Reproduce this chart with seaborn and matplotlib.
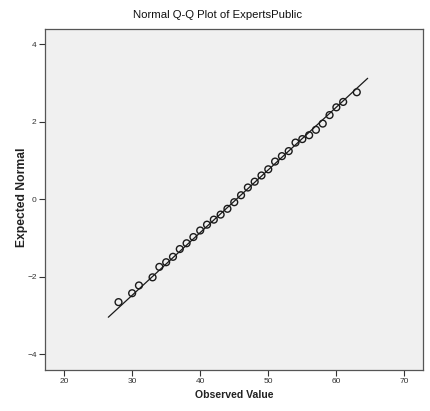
import matplotlib
matplotlib.use("Agg")
import matplotlib.pyplot as plt
import seaborn as sns
import pandas as pd
import numpy as np

# Data
observed = [28, 30, 31, 33, 34, 35, 36, 37, 38, 39, 40, 41, 42, 43, 44, 45, 46,
            47, 48, 49, 50, 51, 52, 53, 54, 55, 56, 57, 58, 59, 60, 61, 63]
expected = [-2.66, -2.43, -2.23, -2.02, -1.75, -1.63, -1.49, -1.29, -1.14, -0.98,
            -0.81, -0.66, -0.53, -0.40, -0.25, -0.08, 0.10, 0.30, 0.45, 0.61,
            0.77, 0.97, 1.11, 1.24, 1.46, 1.55, 1.65, 1.79, 1.95, 2.17, 2.37,
            2.51, 2.76]
line_x = [26.5, 64.6]
line_y = [-3.05, 3.12]
x_ticks = [20, 30, 40, 50, 60, 70]
y_ticks = [-4, -2, 0, 2, 4]

sns.set_style("white")
plt.rcParams['font.family'] = ['Liberation Sans', 'DejaVu Sans']

fig = plt.figure(figsize=(4.31, 4.11), dpi=100)
ax = fig.add_axes([45 / 431, 1 - 369.5 / 411, (423.5 - 45) / 431, (369.5 - 29.5) / 411])
ax.set_facecolor('#f0f0f0')

pts = pd.DataFrame({"obs": observed, "exp": expected})
ln = pd.DataFrame({"x": line_x, "y": line_y})
sns.lineplot(data=ln, x="x", y="y", ax=ax, color="#1a1a1a", linewidth=0.9)
sns.scatterplot(data=pts, x="obs", y="exp", ax=ax, marker="o", s=24,
                facecolor="none", edgecolor="#1a1a1a", linewidth=1.0, zorder=3)

ax.set_xlim(17.2, 72.8)
ax.set_ylim(-4.4, 4.38)
ax.set_xticks(x_ticks)
ax.set_yticks(y_ticks)
ax.tick_params(axis='both', which='major', direction='out', length=4, width=0.8,
               color='#333333', labelsize=6, labelcolor='#333333', pad=2,
               bottom=True, left=True)
for s in ax.spines.values():
    s.set_color('#555555')
    s.set_linewidth(0.9)

ax.set_xlabel("Observed Value", fontsize=7.6, fontweight='bold', color='#222222')
ax.xaxis.set_label_coords((234.5 - 45) / 378.5, (369.5 - 395) / 340, transform=ax.transAxes)
ax.xaxis.label.set_va('center')
ax.set_ylabel("Expected Normal", fontsize=8.7, fontweight='bold', color='#222222')
ax.yaxis.set_label_coords((22.5 - 45) / 378.5, (369.5 - 197.5) / 340, transform=ax.transAxes)
ax.yaxis.label.set_va('center')
fig.text(218 / 431, 1 - 15 / 411, "Normal Q-Q Plot of ExpertsPublic", ha='center', va='center',
         fontsize=8.2, color='#111111')

fig.savefig("out.png", dpi=100)
